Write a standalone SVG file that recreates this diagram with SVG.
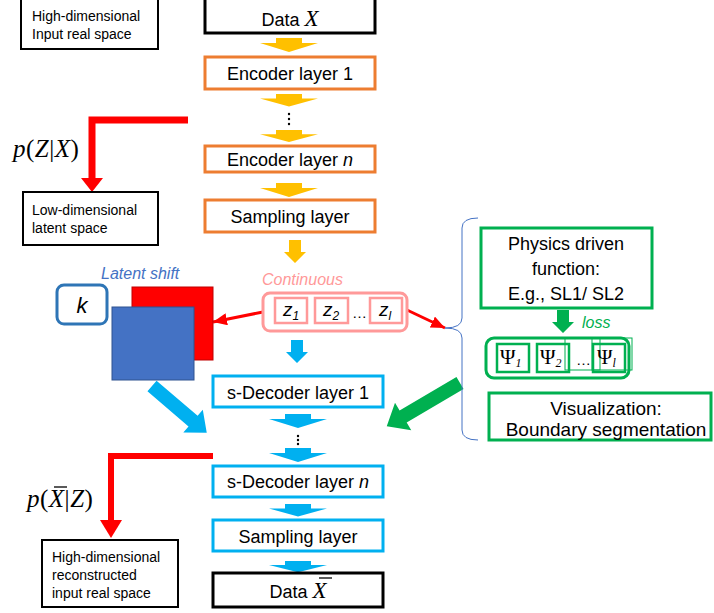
<svg xmlns="http://www.w3.org/2000/svg" xmlns:xlink="http://www.w3.org/1999/xlink" width="714" height="613" viewBox="0 0 714 613">
<style>
text{font-family:"Liberation Sans",Arial,sans-serif;fill:#000}
.note{fill:#fff;stroke:#000;stroke-width:2}
.blk{fill:#fff;stroke:#000;stroke-width:3}
.enc{fill:#fff;stroke:#ED7D31;stroke-width:3}
.dec{fill:#fff;stroke:#00B0F0;stroke-width:3}
.grn{fill:#fff;stroke:#00B050;stroke-width:3}
.pink{fill:#fff;stroke:#FF9999;stroke-width:3}
.pinkin{fill:#fff;stroke:#FF9999;stroke-width:2.5}
.grnin{fill:none;stroke:#00B050;stroke-width:2.5}
.thin{fill:none;stroke:#00B050;stroke-width:1}
.lbl{font-size:18px}
.sm{font-size:14px}
.math{font-family:"Liberation Serif","Times New Roman",serif}
.it{font-style:italic}
.yl{fill:#FFC000}
.bl{fill:#00B0F0}
.gr{fill:#00B050}
.red{fill:none;stroke:#FF0000}
</style>
<defs>
<path id="wide" d="M-13,0 H13 V5 H29 L0,14 L-29,5 H-13 Z"/>
<path id="narrow" d="M-6,0 H6 V12 H11 L0,23 L-11,12 H-6 Z"/>
<marker id="rh" markerUnits="userSpaceOnUse" markerWidth="14" markerHeight="12" refX="14" refY="6" orient="auto">
<path d="M0,0 L14,6 L0,12 Z" fill="#FF0000"/>
</marker>
</defs>

<g id="connectors">
<use xlink:href="#wide" class="yl" transform="translate(289,38)"/>
<use xlink:href="#wide" class="yl" transform="translate(289,94) scale(1,0.9)"/>
<g fill="#000"><circle cx="289" cy="114" r="1.2"/><circle cx="289" cy="119" r="1.2"/><circle cx="289" cy="124" r="1.2"/></g>
<use xlink:href="#wide" class="yl" transform="translate(289,130) scale(1,0.85)"/>
<use xlink:href="#wide" class="yl" transform="translate(289,183)"/>
<use xlink:href="#narrow" class="yl" transform="translate(295,240)"/>
<use xlink:href="#narrow" class="bl" transform="translate(297,340)"/>
<use xlink:href="#wide" class="bl" transform="translate(298,414)"/>
<g fill="#000"><circle cx="298" cy="436" r="1.2"/><circle cx="298" cy="440" r="1.2"/><circle cx="298" cy="444" r="1.2"/></g>
<use xlink:href="#wide" class="bl" transform="translate(298,448)"/>
<use xlink:href="#wide" class="bl" transform="translate(298,504) scale(1,0.9)"/>
<use xlink:href="#wide" class="bl" transform="translate(298,561) scale(1,0.8)"/>
<use xlink:href="#narrow" class="gr" transform="translate(563,310)"/>
<path class="red" stroke-width="7" d="M188,120 H92 V179"/>
<polygon points="81,178 103,178 92,192" fill="#FF0000"/>
<path class="red" stroke-width="6" d="M213,456 H111 V521"/>
<polygon points="100,520 122,520 111,538" fill="#FF0000"/>
<line x1="263" y1="312" x2="213" y2="322" stroke="#FF0000" stroke-width="3" marker-end="url(#rh)"/>
<line x1="407" y1="310" x2="445" y2="328" stroke="#FF0000" stroke-width="3" marker-end="url(#rh)"/>
<path class="bl" transform="translate(152,386) rotate(40.5)" d="M0,-7 H54 V-15 L72,0 L54,15 V7 H0 Z"/>
<path class="gr" transform="translate(460,383) rotate(149.5)" d="M0,-7 H66 V-16 L85,0 L66,16 V7 H0 Z"/>
<path d="M478,218 Q462,218 462,228 V318 Q462,328 445,328 Q462,328 462,338 V430 Q462,440 478,440" fill="none" stroke="#4472C4" stroke-width="1"/>
</g>

<g id="note-input">
<rect class="note" x="21" y="-1" width="137" height="50"/>
<text class="sm" x="32" y="21">High-dimensional</text>
<text class="sm" x="32" y="39">Input real space</text>
</g>

<g id="data-x">
<rect class="blk" x="205" y="-2" width="170" height="35"/>
<text x="290" y="26" text-anchor="middle"><tspan font-size="18">Data </tspan><tspan class="math it" font-size="23">X</tspan></text>
</g>

<g id="encoder-1">
<rect class="enc" x="205" y="57" width="170" height="32"/>
<text class="lbl" x="290" y="80" text-anchor="middle">Encoder layer 1</text>
</g>

<g id="encoder-n">
<rect class="enc" x="205" y="146" width="170" height="26"/>
<text class="lbl" x="290" y="166" text-anchor="middle">Encoder layer <tspan class="it">n</tspan></text>
</g>

<g id="sampling-enc">
<rect class="enc" x="205" y="200" width="170" height="32"/>
<text class="lbl" x="290" y="223" text-anchor="middle">Sampling layer</text>
</g>

<g id="pzx">
<text class="math" x="13" y="157" font-size="25" letter-spacing="0.5"><tspan class="it">p</tspan>(<tspan class="it">Z</tspan>|<tspan class="it">X</tspan>)</text>
</g>

<g id="note-latent">
<rect class="note" x="23" y="192" width="135" height="53"/>
<text class="sm" x="32" y="215">Low-dimensional</text>
<text class="sm" x="32" y="233">latent space</text>
</g>

<g id="latent-shift">
<text class="it" x="101" y="279" font-size="16" style="fill:#4472C4">Latent shift</text>
<rect x="132" y="287" width="81" height="73" fill="#FF0000" stroke="#C00000" stroke-width="1"/>
<rect x="112" y="307" width="82" height="73" fill="#4472C4" stroke="#2F528F" stroke-width="1"/>
</g>

<g id="k">
<rect x="57" y="285" width="50" height="39" rx="7" fill="#fff" stroke="#2E75B6" stroke-width="3"/>
<text class="it" x="82" y="313" font-size="22" text-anchor="middle">k</text>
</g>

<g id="continuous">
<text class="it" x="262" y="285" font-size="16" style="fill:#FF9999">Continuous</text>
<rect class="pink" x="263" y="293" width="144" height="38" rx="7"/>
<rect class="pinkin" x="275" y="298" width="32" height="25"/>
<rect class="pinkin" x="315" y="298" width="33" height="25"/>
<rect class="pinkin" x="370" y="298" width="32" height="25"/>
<text class="it" x="283" y="316" font-size="19">z<tspan font-size="12" dy="4">1</tspan></text>
<text class="it" x="323" y="316" font-size="19">z<tspan font-size="12" dy="4">2</tspan></text>
<text x="352" y="318" font-size="15">…</text>
<text class="it" x="379" y="316" font-size="19">z<tspan font-size="12" dy="4">l</tspan></text>
</g>

<g id="decoder-1">
<rect class="dec" x="213" y="376" width="170" height="31"/>
<text class="lbl" x="298" y="399" text-anchor="middle">s-Decoder layer 1</text>
</g>

<g id="decoder-n">
<rect class="dec" x="213" y="466" width="170" height="31"/>
<text class="lbl" x="298" y="488" text-anchor="middle">s-Decoder layer <tspan class="it">n</tspan></text>
</g>

<g id="sampling-dec">
<rect class="dec" x="213" y="520" width="170" height="31"/>
<text class="lbl" x="298" y="543" text-anchor="middle">Sampling layer</text>
</g>

<g id="data-xbar">
<rect class="blk" x="213" y="573" width="170" height="34"/>
<text x="298" y="598" text-anchor="middle"><tspan font-size="18">Data </tspan><tspan class="math it" font-size="23">X</tspan></text>
<line x1="319" y1="578" x2="332" y2="578" stroke="#000" stroke-width="1.3"/>
</g>

<g id="pxz">
<text class="math" x="27" y="507" font-size="25" letter-spacing="0.5"><tspan class="it">p</tspan>(<tspan class="it">X</tspan>|<tspan class="it">Z</tspan>)</text>
<line x1="54" y1="487" x2="67" y2="487" stroke="#000" stroke-width="1.3"/>
</g>

<g id="note-recon">
<rect class="note" x="42" y="540" width="136" height="67"/>
<text class="sm" x="52" y="562">High-dimensional</text>
<text class="sm" x="52" y="580">reconstructed</text>
<text class="sm" x="52" y="598">input real space</text>
</g>

<g id="physics">
<rect class="grn" x="481" y="228" width="171" height="80"/>
<text class="lbl" x="566" y="250" text-anchor="middle">Physics driven</text>
<text class="lbl" x="566" y="275" text-anchor="middle">function:</text>
<text class="lbl" x="566" y="300" text-anchor="middle">E.g., SL1/ SL2</text>
<text class="it" x="582" y="328" font-size="16" style="fill:#00B050">loss</text>
</g>

<g id="psi">
<rect class="grn" x="486" y="338" width="143" height="40" rx="8"/>
<rect class="thin" x="565" y="338" width="35" height="32"/>
<rect class="thin" x="592" y="338" width="40" height="32"/>
<rect class="grnin" x="497" y="344" width="32" height="28"/>
<rect class="grnin" x="537" y="344" width="32" height="28"/>
<rect class="grnin" x="593" y="344" width="32" height="28"/>
<text class="math" x="500" y="364" font-size="21">Ψ<tspan class="it" font-size="12" dy="3">1</tspan></text>
<text class="math" x="540" y="364" font-size="21">Ψ<tspan class="it" font-size="12" dy="3">2</tspan></text>
<text x="576" y="365" font-size="15">…</text>
<text class="math" x="597" y="364" font-size="21">Ψ<tspan class="it" font-size="12" dy="3">l</tspan></text>
</g>

<g id="visualization">
<rect class="grn" x="489" y="393" width="222" height="47"/>
<text x="606" y="415" font-size="19" text-anchor="middle">Visualization:</text>
<text x="606" y="436" font-size="19" text-anchor="middle">Boundary segmentation</text>
</g>
</svg>
